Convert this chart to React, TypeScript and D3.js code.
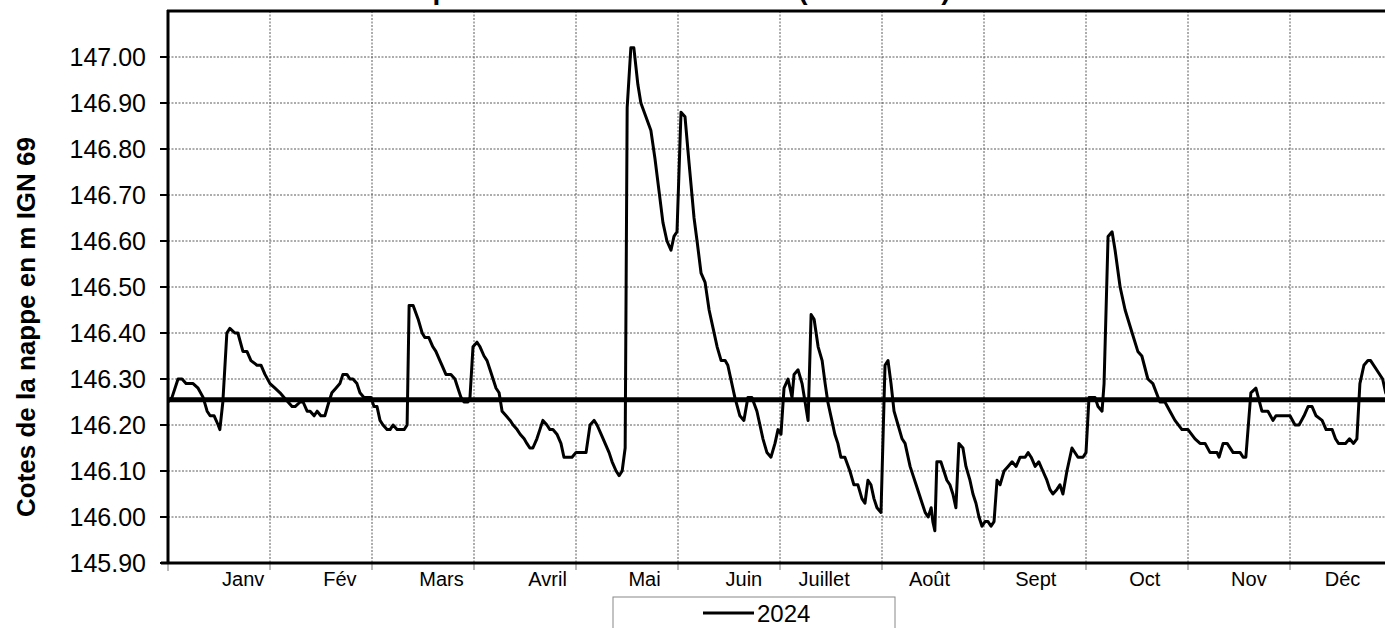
import React, { useMemo } from "react";
import * as d3 from "d3";

// ---- Data ----
// day of year 2024 (0 = 1 Jan) for each reading
const DAYS = [
  0, 1.2, 3.0, 4.2, 5.4, 7.5, 9.0, 10.5, 11.7, 12.6, 13.8, 15.0, 15.5, 16.4, 17.6, 18.5, 20.0, 20.9, 22.4, 23.6,
  24.8, 26.6, 27.8, 29.0, 30.5, 32.0, 33.5, 34.7, 35.9, 37.1, 38.0, 39.5, 40.4, 41.6, 42.5, 43.7, 44.6, 45.7, 46.9, 48.1,
  49.0, 50.2, 51.4, 52.3, 53.5, 54.4, 55.3, 56.5, 57.4, 58.6, 59.8, 60.7, 61.6, 62.5, 63.4, 64.3, 65.5, 66.4, 67.3, 68.5,
  69.7, 70.6, 71.5, 72.1, 73.3, 74.8, 76.0, 76.8, 78.0, 79.2, 80.1, 81.3, 81.9, 83.1, 84.6, 85.8, 86.7, 87.6, 88.5, 89.7,
  90.3, 91.2, 92.4, 93.3, 94.5, 95.4, 96.3, 97.2, 98.1, 99.0, 99.9, 101.1, 102.3, 103.2, 104.4, 105.3, 106.5, 107.3, 108.2, 109.1,
  110.3, 111.2, 112.1, 113.3, 114.2, 115.1, 116.3, 117.5, 118.4, 119.6, 120.8, 122.0, 123.2, 125.0, 126.2, 127.4, 128.3, 129.5, 130.7, 131.9,
  132.8, 134.0, 134.9, 135.8, 136.7, 137.3, 138.4, 139.3, 140.5, 141.4, 142.9, 144.4, 145.6, 146.8, 148.0, 149.2, 150.4, 151.3, 152.2, 153.4,
  154.6, 155.8, 157.3, 158.2, 159.4, 160.6, 161.8, 163.0, 164.2, 165.4, 166.6, 167.4, 168.3, 169.5, 171.0, 172.2, 173.4, 174.6, 176.1, 177.0,
  177.9, 179.1, 180.3, 181.5, 182.4, 183.3, 184.2, 185.4, 186.6, 187.2, 188.4, 189.6, 190.5, 191.4, 192.3, 193.2, 194.4, 195.6, 196.5, 197.3,
  198.5, 199.4, 200.3, 201.2, 202.4, 203.9, 205.1, 206.3, 207.5, 208.4, 209.3, 210.2, 211.1, 212.0, 213.2, 214.4, 215.3, 216.2, 217.1, 218.3,
  219.5, 220.4, 221.9, 222.8, 223.7, 224.6, 225.5, 226.4, 227.3, 228.2, 228.7, 229.3, 229.9, 231.1, 232.0, 232.9, 233.8, 234.7, 235.6, 236.5,
  237.7, 238.6, 239.8, 240.7, 241.6, 242.5, 243.4, 244.3, 245.2, 246.1, 247.0, 247.9, 248.8, 250.0, 251.2, 252.4, 253.6, 254.8, 256.3, 257.2,
  258.1, 259.3, 260.4, 261.6, 262.8, 263.7, 264.6, 265.8, 266.7, 267.6, 268.8, 270.3, 272.1, 273.6, 274.5, 275.4, 277.2, 278.1, 279.3, 279.9,
  281.1, 282.3, 283.2, 284.7, 286.2, 288.3, 290.0, 291.2, 293.0, 294.5, 296.6, 298.1, 299.6, 301.1, 303.2, 305.0, 307.1, 308.6, 310.1, 311.6,
  313.7, 314.3, 315.5, 316.7, 318.5, 320.6, 321.5, 322.3, 323.8, 325.3, 327.1, 328.9, 330.4, 331.3, 335.5, 337.0, 338.2, 339.7, 340.9, 342.1,
  343.3, 345.1, 346.3, 348.1, 349.1, 350.0, 352.1, 353.3, 354.5, 355.5, 356.4, 357.6, 358.8, 359.6, 361.4, 363.2, 364.1, 365.6,
];

// water table level (m IGN 69) for each reading
const LEVELS = [
  146.25, 146.26, 146.30, 146.30, 146.29, 146.29, 146.28, 146.26, 146.23, 146.22, 146.22, 146.20, 146.19, 146.25, 146.40, 146.41, 146.40, 146.40, 146.36, 146.36,
  146.34, 146.33, 146.33, 146.31, 146.29, 146.28, 146.27, 146.26, 146.25, 146.24, 146.24, 146.25, 146.25, 146.23, 146.23, 146.22, 146.23, 146.22, 146.22, 146.25,
  146.27, 146.28, 146.29, 146.31, 146.31, 146.30, 146.30, 146.29, 146.27, 146.26, 146.26, 146.26, 146.24, 146.24, 146.21, 146.20, 146.19, 146.19, 146.20, 146.19,
  146.19, 146.19, 146.20, 146.46, 146.46, 146.43, 146.40, 146.39, 146.39, 146.37, 146.36, 146.34, 146.33, 146.31, 146.31, 146.30, 146.28, 146.26, 146.25, 146.25,
  146.26, 146.37, 146.38, 146.37, 146.35, 146.34, 146.32, 146.30, 146.28, 146.27, 146.23, 146.22, 146.21, 146.20, 146.19, 146.18, 146.17, 146.16, 146.15, 146.15,
  146.17, 146.19, 146.21, 146.20, 146.19, 146.19, 146.18, 146.16, 146.13, 146.13, 146.13, 146.14, 146.14, 146.14, 146.20, 146.21, 146.20, 146.18, 146.16, 146.14,
  146.12, 146.10, 146.09, 146.10, 146.15, 146.89, 147.02, 147.02, 146.94, 146.90, 146.87, 146.84, 146.78, 146.71, 146.64, 146.60, 146.58, 146.61, 146.62, 146.88,
  146.87, 146.77, 146.65, 146.60, 146.53, 146.51, 146.45, 146.41, 146.37, 146.34, 146.34, 146.33, 146.30, 146.26, 146.22, 146.21, 146.26, 146.26, 146.23, 146.20,
  146.17, 146.14, 146.13, 146.16, 146.19, 146.18, 146.28, 146.30, 146.26, 146.31, 146.32, 146.29, 146.25, 146.21, 146.44, 146.43, 146.37, 146.34, 146.29, 146.25,
  146.21, 146.18, 146.16, 146.13, 146.13, 146.10, 146.07, 146.07, 146.04, 146.03, 146.08, 146.07, 146.04, 146.02, 146.01, 146.33, 146.34, 146.29, 146.23, 146.20,
  146.17, 146.16, 146.11, 146.09, 146.07, 146.05, 146.03, 146.01, 146.00, 146.02, 145.99, 145.97, 146.12, 146.12, 146.10, 146.08, 146.07, 146.05, 146.02, 146.16,
  146.15, 146.11, 146.08, 146.05, 146.03, 146.00, 145.98, 145.99, 145.99, 145.98, 145.99, 146.08, 146.07, 146.10, 146.11, 146.12, 146.11, 146.13, 146.13, 146.14,
  146.13, 146.11, 146.12, 146.10, 146.08, 146.06, 146.05, 146.06, 146.07, 146.05, 146.10, 146.15, 146.13, 146.13, 146.14, 146.26, 146.26, 146.24, 146.23, 146.29,
  146.61, 146.62, 146.58, 146.50, 146.45, 146.40, 146.36, 146.35, 146.30, 146.29, 146.25, 146.25, 146.23, 146.21, 146.19, 146.19, 146.17, 146.16, 146.16, 146.14,
  146.14, 146.13, 146.16, 146.16, 146.14, 146.14, 146.13, 146.13, 146.27, 146.28, 146.23, 146.23, 146.21, 146.22, 146.22, 146.20, 146.20, 146.22, 146.24, 146.24,
  146.22, 146.21, 146.19, 146.19, 146.17, 146.16, 146.16, 146.17, 146.16, 146.17, 146.29, 146.33, 146.34, 146.34, 146.32, 146.30, 146.27, 146.25,
];

const REFERENCE_LEVEL = 146.255;
const SERIES_NAME = "2024";

const Y_TICKS = [145.9, 146.0, 146.1, 146.2, 146.3, 146.4, 146.5, 146.6, 146.7, 146.8, 146.9, 147.0];
const MONTH_LABELS = ["Janv", "Fév", "Mars", "Avril", "Mai", "Juin", "Juillet", "Août", "Sept", "Oct", "Nov", "Déc"];
// label anchor positions (day of year) as placed in the reference
const MONTH_LABEL_DAYS = [22.5, 51.4, 81.8, 113.5, 142.5, 172.2, 196.2, 227.7, 259.5, 292.1, 323.2, 351.2];

const TITLE = "Cotes du piézomètre de Saint-Martin (Station 12)";
const Y_TITLE = "Cotes de la nappe en m IGN 69";

const W = 1385;
const H = 628;
const M = { left: 168, top: 11, right: 1392, bottom: 563 };
const FONT = "Arial, 'Liberation Sans', sans-serif";

export default function App() {
  const x = useMemo(() => d3.scaleLinear().domain([0, 366]).range([M.left, M.right]), []);
  const y = useMemo(() => d3.scaleLinear().domain([145.9, 147.1]).range([M.bottom, M.top]), []);

  const points: [number, number][] = DAYS.map((d, i) => [d, LEVELS[i]]);
  const line = d3
    .line<[number, number]>()
    .x((p) => x(p[0]))
    .y((p) => y(p[1]));

  const monthBounds = d3.range(0, 366.01, 30.5);

  return (
    <svg
      width={W}
      height={H}
      style={{ position: "absolute", left: 0, top: 0, background: "#fff" }}
      fontFamily={FONT}
    >
      <rect x={0} y={0} width={W} height={H} fill="#fff" />
      <defs>
        <clipPath id="plot">
          <rect x={M.left} y={M.top} width={M.right - M.left} height={M.bottom - M.top} />
        </clipPath>
      </defs>

      {/* title (mostly cut off at top) */}
      <text x={305} y={-1} fontSize={28} fontWeight="bold" fill="#000">
        {TITLE}
      </text>

      {/* horizontal grid */}
      {Y_TICKS.slice(1).map((t) => (
        <line
          key={"hg" + t}
          x1={M.left}
          x2={M.right}
          y1={y(t)}
          y2={y(t)}
          stroke="#5a5a5a"
          strokeWidth={1}
          strokeDasharray="2,1.5"
        />
      ))}
      {/* vertical grid */}
      {monthBounds.slice(1).map((d) => (
        <line
          key={"vg" + d}
          x1={x(d)}
          x2={x(d)}
          y1={M.top}
          y2={M.bottom}
          stroke="#5a5a5a"
          strokeWidth={1}
          strokeDasharray="2,1.5"
        />
      ))}

      {/* x ticks */}
      {monthBounds.map((d) => (
        <line
          key={"xt" + d}
          x1={x(d)}
          x2={x(d)}
          y1={M.bottom}
          y2={M.bottom + (d === 0 ? 8 : 7)}
          stroke="#777"
          strokeWidth={1}
        />
      ))}

      {/* reference level */}
      <line
        x1={M.left}
        x2={M.right}
        y1={y(REFERENCE_LEVEL)}
        y2={y(REFERENCE_LEVEL)}
        stroke="#000"
        strokeWidth={5}
      />

      {/* series */}
      <path
        d={line(points) || ""}
        fill="none"
        stroke="#000"
        strokeWidth={3}
        strokeLinejoin="round"
        clipPath="url(#plot)"
      />

      {/* frame */}
      <line x1={M.left - 1} x2={M.right} y1={M.top} y2={M.top} stroke="#000" strokeWidth={3} />
      <line x1={M.left} x2={M.left} y1={M.top - 1} y2={M.bottom + 1} stroke="#000" strokeWidth={3} />
      <line x1={M.left - 7} x2={M.right} y1={M.bottom} y2={M.bottom} stroke="#000" strokeWidth={3} />

      {/* y ticks and labels */}
      {Y_TICKS.map((t) => (
        <g key={"yt" + t}>
          <line x1={M.left - 8} x2={M.left} y1={y(t)} y2={y(t)} stroke="#000" strokeWidth={2} />
          <text
            x={M.left - 22}
            y={y(t)}
            dy="0.36em"
            textAnchor="end"
            fontSize={25}
            fill="#000"
          >
            {t.toFixed(2)}
          </text>
        </g>
      ))}

      {/* month labels */}
      {MONTH_LABELS.map((m, i) => (
        <text
          key={m}
          x={x(MONTH_LABEL_DAYS[i])}
          y={586}
          textAnchor="middle"
          fontSize={20}
          fill="#000"
        >
          {m}
        </text>
      ))}

      {/* y title */}
      <text
        transform={`translate(35, ${(M.top + M.bottom) / 2 + 40}) rotate(-90)`}
        textAnchor="middle"
        fontSize={26}
        fontWeight="bold"
        fill="#000"
      >
        {Y_TITLE}
      </text>

      {/* legend */}
      <rect x={613} y={597} width={282} height={40} fill="#fff" stroke="#888" strokeWidth={1} />
      <line x1={703} x2={754} y1={613} y2={613} stroke="#000" strokeWidth={3} />
      <text x={757} y={622} fontSize={24} fill="#000">
        {SERIES_NAME}
      </text>
    </svg>
  );
}
